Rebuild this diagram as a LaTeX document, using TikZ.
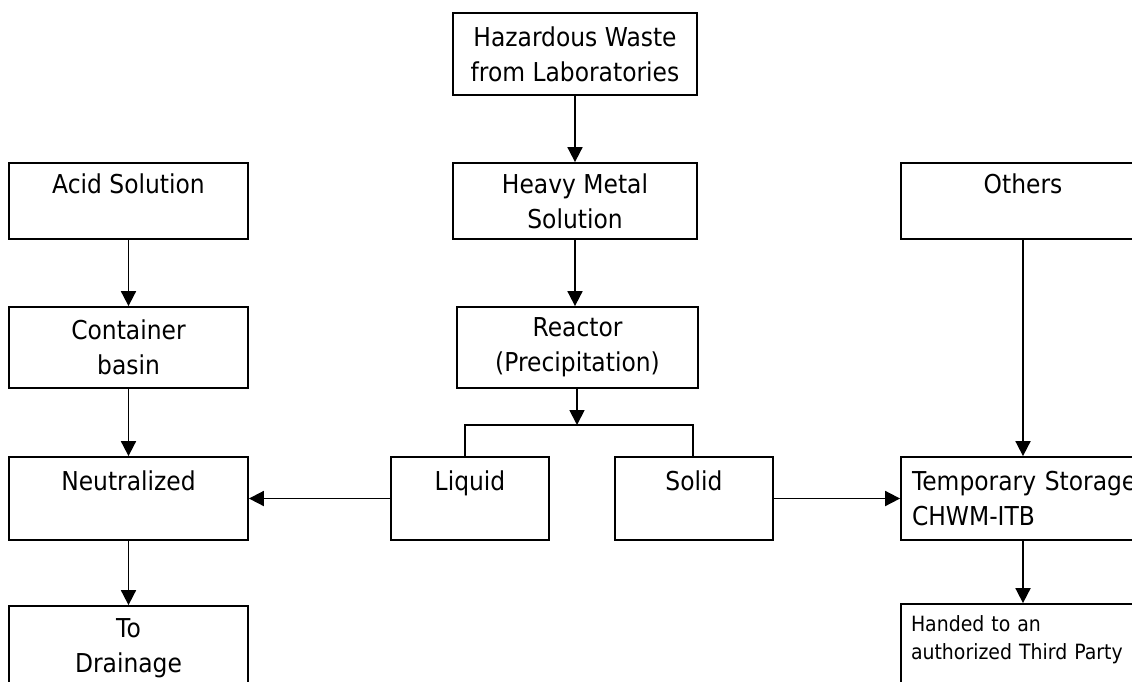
\documentclass[tikz,border=0pt]{standalone}
\usepackage{fontspec}
\setmainfont{DejaVu Sans}[FakeStretch=0.9]
\usetikzlibrary{arrows.meta}
\begin{document}
\begin{tikzpicture}[x=1pt,y=-1pt,
  box/.style={draw, line width=1.8pt, align=center, inner sep=0pt,
    font=\fontsize{26}{35}\selectfont},
  flow/.style={line width=1.8pt, -{Triangle[width=15pt,length=15pt]}},
  link/.style={line width=1.8pt}]
\clip (0,0) rectangle (1132,681);
\fill[white] (0,0) rectangle (1132,681);

% centre column
\node[box, minimum width=244pt, minimum height=82pt] (haz) at (575,54)
  {Hazardous Waste\\from Laboratories};
\node[box, minimum width=244pt, minimum height=76pt] (heavy) at (575,201)
  {Heavy Metal\\Solution};
\node[box, minimum width=241pt, minimum height=81pt] (reactor) at (577.5,347.5)
  {Reactor\\(Precipitation)};
\node[box, minimum width=158pt, minimum height=83pt] (liquid) at (470,498.5)
  {Liquid\\\mbox{}};
\node[box, minimum width=158pt, minimum height=83pt] (solid) at (694,498.5)
  {Solid\\\mbox{}};

% left column
\node[box, minimum width=239pt, minimum height=76pt] (acid) at (128.5,201)
  {Acid Solution\\\mbox{}};
\node[box, minimum width=239pt, minimum height=81pt] (container) at (128.5,347.5)
  {Container\\basin};
\node[box, minimum width=239pt, minimum height=83pt] (neut) at (128.5,498.5)
  {Neutralized\\\mbox{}};
\node[box, minimum width=239pt, minimum height=84pt] (drain) at (128.5,648)
  {To\\Drainage};

% right column
\node[box, minimum width=244pt, minimum height=76pt] (others) at (1023,201)
  {Others\\\mbox{}};
\node[box, minimum width=244pt, minimum height=83pt, align=left, text width=222pt]
  (temp) at (1023,498.5)
  {\mbox{Temporary Storage}\\CHWM-ITB};
\node[box, minimum width=244pt, minimum height=96pt, align=left, text width=224pt,
  font=\fontsize{21}{28}\selectfont] (handed) at (1023,652)
  {Handed to an\\authorized Third Party\\\mbox{}};

% bracket under the reactor
\coordinate (split) at (577,425);
\coordinate (lup) at (465,425);
\coordinate (sup) at (693,425);

\draw[flow] (haz) -- (heavy);
\draw[flow] (heavy.south) -- (heavy.south |- reactor.north);
\draw[flow] (reactor.south -| split) -- (split);
\draw[link] (lup |- liquid.north) -- (lup) -- (sup) -- (sup |- solid.north);

\draw[flow] (acid) -- (container);
\draw[flow] (container) -- (neut);
\draw[flow] (neut) -- (drain);
\draw[flow] (liquid.west) -- (neut.east);

\draw[flow] (solid.east) -- (temp.west);
\draw[flow] (others) -- (temp);
\draw[flow] (temp) -- (handed);
\end{tikzpicture}
\end{document}
